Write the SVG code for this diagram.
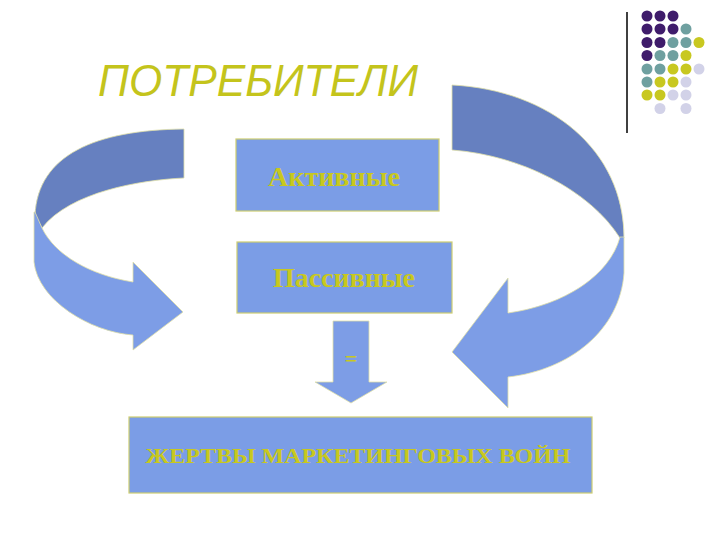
<svg xmlns="http://www.w3.org/2000/svg" width="720" height="540" viewBox="0 0 720 540">
<style>
.box{fill:#7b9de6;stroke:#cdcd70;stroke-width:1.2}
.lbl{font-family:"Liberation Serif","Times New Roman",serif;font-weight:bold;fill:#c8c81e;text-anchor:middle}
.dark{fill:#6680c0;stroke:#e0e0a8;stroke-width:0.8}
.light{fill:#7d9de6;stroke:#e0e0a8;stroke-width:0.8}
.p{fill:#3f1c6b}.t{fill:#6fa0a0}.y{fill:#c8c820}.l{fill:#d2d2e8}
</style>
<rect width="720" height="540" fill="#ffffff"/>
<g id="decor">
<line x1="627" y1="12" x2="627" y2="133" stroke="#000" stroke-width="1.5"/>
<g>
<circle class="p" cx="647" cy="16" r="5.5"/><circle class="p" cx="660" cy="16" r="5.5"/><circle class="p" cx="673" cy="16" r="5.5"/>
<circle class="p" cx="647" cy="29" r="5.5"/><circle class="p" cx="660" cy="29" r="5.5"/><circle class="p" cx="673" cy="29" r="5.5"/><circle class="t" cx="686" cy="29" r="5.5"/>
<circle class="p" cx="647" cy="42.5" r="5.5"/><circle class="p" cx="660" cy="42.5" r="5.5"/><circle class="t" cx="673" cy="42.5" r="5.5"/><circle class="t" cx="686" cy="42.5" r="5.5"/><circle class="y" cx="699" cy="42.5" r="5.5"/>
<circle class="p" cx="647" cy="55.5" r="5.5"/><circle class="t" cx="660" cy="55.5" r="5.5"/><circle class="t" cx="673" cy="55.5" r="5.5"/><circle class="y" cx="686" cy="55.5" r="5.5"/>
<circle class="t" cx="647" cy="69" r="5.5"/><circle class="t" cx="660" cy="69" r="5.5"/><circle class="y" cx="673" cy="69" r="5.5"/><circle class="y" cx="686" cy="69" r="5.5"/><circle class="l" cx="699" cy="69" r="5.5"/>
<circle class="t" cx="647" cy="82" r="5.5"/><circle class="y" cx="660" cy="82" r="5.5"/><circle class="y" cx="673" cy="82" r="5.5"/><circle class="l" cx="686" cy="82" r="5.5"/>
<circle class="y" cx="647" cy="95" r="5.5"/><circle class="y" cx="660" cy="95" r="5.5"/><circle class="l" cx="673" cy="95" r="5.5"/><circle class="l" cx="686" cy="95" r="5.5"/>
<circle class="l" cx="660" cy="108.5" r="5.5"/><circle class="l" cx="686" cy="108.5" r="5.5"/>
</g>
</g>
<g id="title">
<text x="98" y="96" font-family="Liberation Sans, Arial, sans-serif" font-style="italic" font-size="44" fill="#c4c41c" textLength="320" lengthAdjust="spacingAndGlyphs">ПОТРЕБИТЕЛИ</text>
</g>
<g id="connectors">
<g id="left-arrow">
<path class="dark" d="M184,129 L184,178 C140,180 70,192 42,228 L35,215 C38,155 95,130 184,129 Z"/>
<path class="light" d="M35,212 L42,228 C55,255 90,275 133,282 L133,262 L183,312 L133,350 L133,335 C90,332 38,300 34,262 L34,212 Z"/>
</g>
<g id="right-arrow">
<path class="dark" d="M452,85 C550,90 624,150 624,238 L620,238 C590,190 520,155 452,150 Z"/>
<path class="light" d="M620,237 L624,237 L624,273 C620,330 570,370 508,377 L508,408 L452,352 L508,278 L508,313 C565,305 610,275 620,237 Z"/>
</g>
<g id="down-arrow">
<path class="light" d="M333,321 L369,321 L369,382 L387,382 L351,403 L315,382 L333,382 Z"/>
<text class="lbl" x="351" y="366" font-size="22">=</text>
</g>
</g>
<g id="node-active">
<rect class="box" x="236" y="139" width="203" height="72"/>
<text class="lbl" x="334" y="186" font-size="27" textLength="132" lengthAdjust="spacingAndGlyphs">Активные</text>
</g>
<g id="node-passive">
<rect class="box" x="237" y="242" width="215" height="71"/>
<text class="lbl" x="344" y="287" font-size="27" textLength="142" lengthAdjust="spacingAndGlyphs">Пассивные</text>
</g>
<g id="node-victims">
<rect class="box" x="129" y="417" width="463" height="76"/>
<text class="lbl" x="358" y="463" font-size="21" textLength="425" lengthAdjust="spacingAndGlyphs">ЖЕРТВЫ МАРКЕТИНГОВЫХ ВОЙН</text>
</g>
</svg>
